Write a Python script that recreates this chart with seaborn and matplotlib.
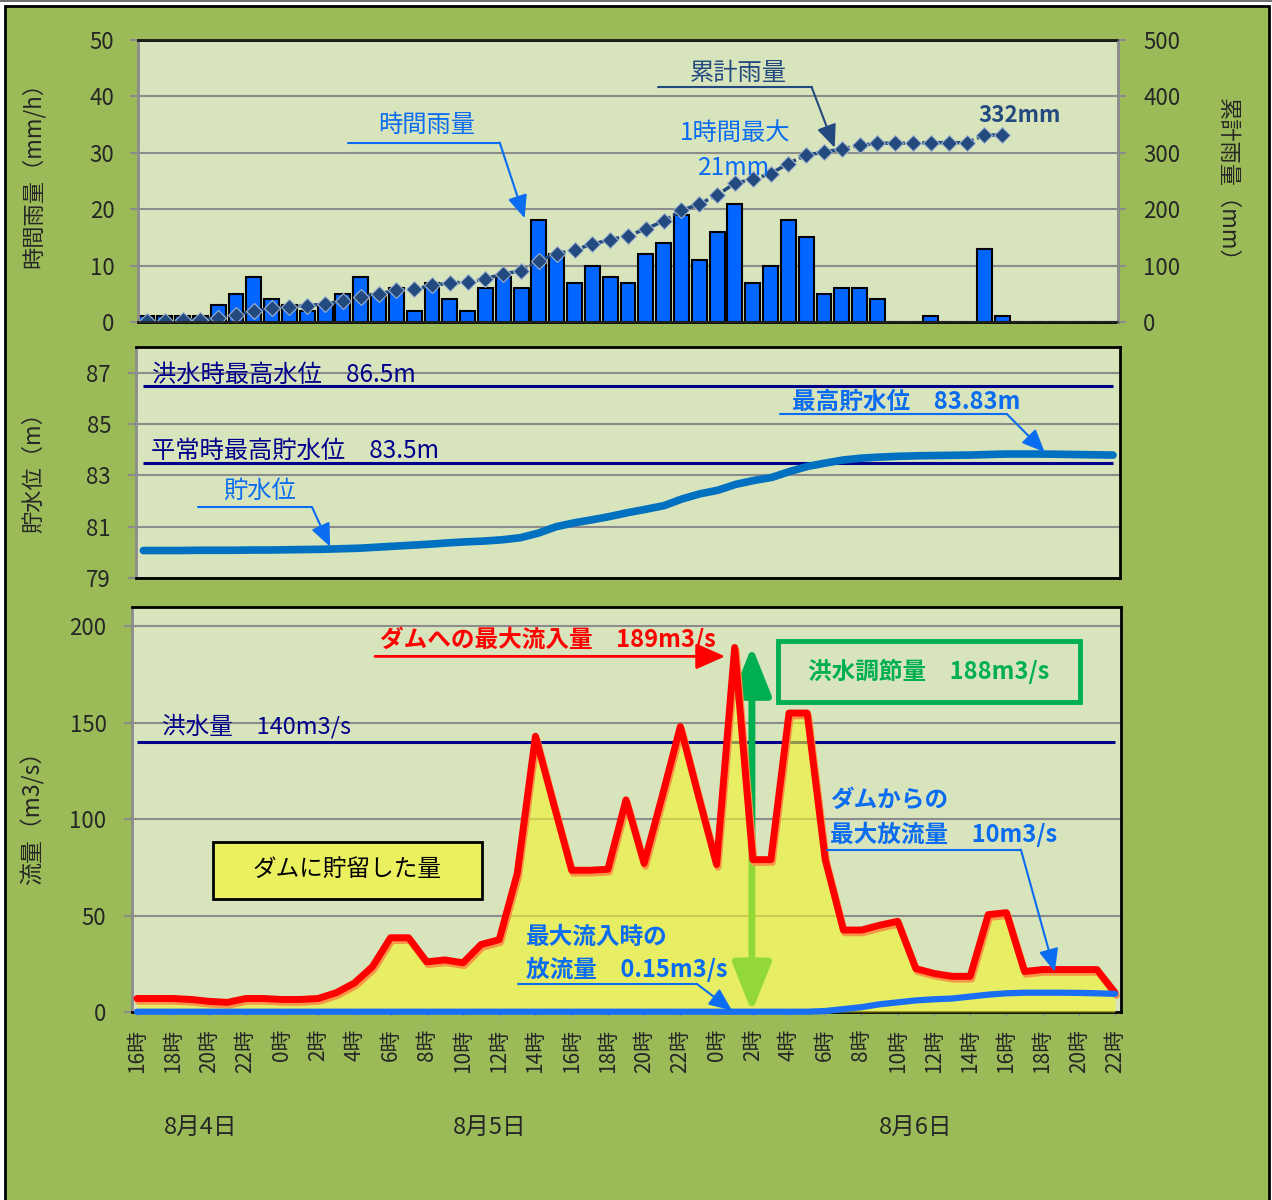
import numpy as np
import pandas as pd
import matplotlib
matplotlib.use("Agg")
import matplotlib.pyplot as plt
import matplotlib.patheffects as pe
from matplotlib.patches import Rectangle
from matplotlib.lines import Line2D
import seaborn as sns

sns.set_theme(style="white")
plt.rcParams['font.family'] = ['Noto Sans CJK JP', 'DejaVu Sans']

# hourly data, 8/4 16時 -> 8/6 22時
hour_idx = list(range(55))
rain = [1, 1, 1, 1, 3, 5, 8, 4, 3, 2, 3, 5, 8, 5, 6, 2, 7, 4, 2, 6,
        8, 6, 18, 12, 7, 10, 8, 7, 12, 14, 19, 11, 16, 21, 7, 10, 18, 15, 5, 6,
        6, 4, 0, 0, 1, 0, 0, 13, 1, 0, 0, 0, 0, 0, 0]
level = [80.07, 80.07, 80.07, 80.08, 80.08, 80.08, 80.09, 80.09, 80.10, 80.11,
         80.12, 80.14, 80.16, 80.20, 80.24, 80.28, 80.32, 80.37, 80.41, 80.44,
         80.49, 80.57, 80.75, 81.00, 81.15, 81.27, 81.40, 81.55, 81.68, 81.82,
         82.08, 82.28, 82.42, 82.65, 82.80, 82.92, 83.15, 83.35, 83.48, 83.60,
         83.67, 83.71, 83.74, 83.76, 83.77, 83.78, 83.79, 83.81, 83.83, 83.83,
         83.83, 83.82, 83.81, 83.80, 83.79]
inflow = [7, 7, 7, 6.5, 5.5, 5, 7, 7, 6.5, 6.5, 7, 10, 15, 23.5, 38.5, 38.5,
          26, 27, 25.5, 35, 37.5, 72, 143, 108, 73.5, 73.5, 74, 110, 77, 112,
          148, 112, 76.5, 189, 79, 79, 155, 155, 79, 42.5, 42.5, 45, 47, 22.5,
          20, 18.5, 18.5, 50.5, 51.5, 21, 22, 22, 22, 22, 10]
outflow = [0.15] * 38 + [0.5, 1.5, 2.5, 4, 5, 6, 6.6, 7, 8, 9, 9.7, 10, 10,
                         10, 9.9, 9.7, 9.4]
tick_labels = ['16時', '18時', '20時', '22時', '0時', '2時', '4時', '6時', '8時',
               '10時', '12時', '14時', '16時', '18時', '20時', '22時', '0時', '2時',
               '4時', '6時', '8時', '10時', '12時', '14時', '16時', '18時', '20時', '22時']
day_labels = ['8月4日', '8月5日', '8月6日']

flood_level = 86.5
normal_level = 83.5
flood_flow = 140

# colours
BG = '#9BBB59'
PANEL = '#D8E4BC'
GRID = '#8C8C8C'
BLUE = '#0066FF'
TXT_BLUE = '#0A6CF0'
CUM = '#234A7E'
NAVY = '#00008B'
GREEN = '#00B050'

W, H = 1272, 1200
fig = plt.figure(figsize=(W / 100, H / 100), dpi=100)
fig.patch.set_facecolor('white')
fig.add_artist(Rectangle((5 / W, -0.01), 1264 / W, 1.01 - 6 / H, transform=fig.transFigure,
                         facecolor=BG, edgecolor='black', lw=2, zorder=-10))
fig.add_artist(Line2D([0, 1], [1 - 1 / H] * 2, color='#555555', lw=1.2))


def px_axes(l, t, r, b):
    ax = fig.add_axes([l / W, 1 - b / H, (r - l) / W, (b - t) / H])
    ax.set_facecolor(PANEL)
    ax.set_axisbelow(True)
    ax.yaxis.grid(True, color=GRID, lw=1.5)
    for s in ax.spines.values():
        s.set_color('black')
        s.set_linewidth(2)
        s.set_visible(True)
    ax.spines['left'].set_color(GRID)
    ax.tick_params(axis='y', labelsize=16, length=6, width=1.5, color=GRID,
                   direction='out', pad=11, left=True)
    return ax


def leader(ax, x0, x1, y, tip, color, lw=1.5, head=0.7):
    ax.plot([x0, x1], [y, y], color=color, lw=lw, clip_on=False, zorder=6)
    ax.annotate('', xy=tip, xytext=(x1, y),
                arrowprops=dict(arrowstyle=f'-|>,head_length={head},head_width=0.3',
                                color=color, lw=lw, mutation_scale=20,
                                shrinkA=0, shrinkB=0), zorder=6)


# ---------------- rainfall ----------------
ax1 = px_axes(138, 40, 1118, 322)
sns.barplot(x=hour_idx, y=rain, color=BLUE, saturation=1, edgecolor='black',
            linewidth=1.5, width=0.84, ax=ax1, zorder=2)
ax1.set_xlim(-0.5, 54.5)
ax1.set_ylim(0, 50)
ax1.set_yticks([0, 10, 20, 30, 40, 50])
ax1.set_xticks([])
ax1.set_xlabel('')
ax1.spines['right'].set_color(GRID)
ax1.set_ylabel('時間雨量（mm/h）', fontsize=16)
ax1.yaxis.set_label_coords(-0.095, 0.54)

ax1r = ax1.twinx()
last = max(i for i, r in enumerate(rain) if r > 0)
cum = np.cumsum(rain)[:last + 1]
sns.lineplot(x=hour_idx[:last + 1], y=cum, ax=ax1r, color=CUM, lw=2.5,
             linestyle=(0, (3, 1)), marker='D', markersize=8,
             markeredgecolor='#9FB3CF', markeredgewidth=0.8)
ax1r.set_ylim(0, 500)
ax1r.set_yticks([0, 100, 200, 300, 400, 500])
ax1r.spines['right'].set_color(GRID)
ax1r.spines['right'].set_linewidth(2)
ax1r.spines['left'].set_visible(False)
ax1r.tick_params(axis='y', labelsize=16, length=6, width=1.5, color=GRID,
                 direction='out', pad=12, right=True)
ax1r.set_ylabel('累計雨量（mm）', fontsize=16, rotation=270, va='center')
ax1r.yaxis.set_label_coords(1.112, 0.486)

ax1r.text(33.2, 441, '累計雨量', color=CUM, fontsize=17.5, ha='center', va='center')
leader(ax1r, 28.7, 37.3, 417, (38.6, 309), CUM)
ax1r.text(15.7, 349, '時間雨量', color=TXT_BLUE, fontsize=17.5, ha='center', va='center')
leader(ax1r, 11.27, 19.8, 318, (21.2, 184), TXT_BLUE)
ax1r.text(33.0, 335, '1時間最大', color=TXT_BLUE, fontsize=17.5, ha='center', va='center')
ax1r.text(32.95, 273, '21mm', color=TXT_BLUE, fontsize=17.5, ha='center', va='center')
ax1r.text(49.0, 367, f'{cum[-1]}mm', color=CUM, fontsize=16, fontweight='bold',
          ha='center', va='center')

# ---------------- reservoir level ----------------
ax2 = px_axes(136, 347, 1120, 578)
ax2.hlines([flood_level, normal_level], hour_idx[0], hour_idx[-1], color=NAVY, lw=2.2, zorder=3)
sns.lineplot(x=hour_idx, y=level, ax=ax2, color='#0070C0', lw=5.5,
             solid_capstyle='round', zorder=4)
ax2.set_xlim(-0.41, 54.39)
ax2.set_ylim(79, 88)
ax2.set_yticks([79, 81, 83, 85, 87])
ax2.set_xticks([])
ax2.set_xlabel('')
ax2.tick_params(axis='y', pad=12)
ax2.set_ylabel('貯水位（m）', fontsize=16)
ax2.yaxis.set_label_coords(-0.0925, 0.48)

ax2.text(0.49, 86.9, f'洪水時最高水位　{flood_level}m', color=NAVY, fontsize=17.5, va='center')
ax2.text(0.43, 83.97, f'平常時最高貯水位　{normal_level}m', color=NAVY, fontsize=17.5, va='center')
ax2.text(6.5, 82.38, '貯水位', color=TXT_BLUE, fontsize=17.5, ha='center', va='center')
leader(ax2, 3.05, 9.4, 81.75, (10.4, 80.22), TXT_BLUE)
ax2.text(42.5, 85.85, f'最高貯水位　{max(level)}m', color=TXT_BLUE, fontsize=17,
         fontweight='bold', ha='center', va='center')
leader(ax2, 35.45, 48.1, 85.38, (50.2, 83.9), TXT_BLUE)

# ---------------- inflow / outflow ----------------
ax3 = px_axes(131.5, 607, 1120.5, 1012)
ax3.hlines(flood_flow, hour_idx[0], hour_idx[-1], color=NAVY, lw=2.2, zorder=2)
peak = int(np.argmax(inflow))
ax3.annotate('', xy=(peak + 0.95, max(inflow) + 0.6), xytext=(peak + 0.95, 0),
             arrowprops=dict(arrowstyle='<|-|>,head_length=1.5,head_width=0.6',
                             color=GREEN, lw=5, mutation_scale=20,
                             shrinkA=0, shrinkB=0), zorder=2.5)
ax3.fill_between(hour_idx, 0, inflow, color='#F4F628', alpha=0.6, lw=0, zorder=3)
sns.lineplot(x=hour_idx, y=inflow, ax=ax3, color='#FF0000', lw=5, zorder=4,
             path_effects=[pe.SimpleLineShadow(offset=(1, -2), shadow_color='#F79646', alpha=1),
                           pe.Normal()])
sns.lineplot(x=hour_idx, y=outflow, ax=ax3, color='#1A6EF2', lw=4.5, zorder=5, clip_on=False)
ax3.set_xlim(-0.30, 54.30)
ax3.set_ylim(0, 210)
ax3.set_yticks([0, 50, 100, 150, 200])
ax3.tick_params(axis='y', pad=12)
ax3.set_xticks(hour_idx[::2])
ax3.set_xticklabels(tick_labels, rotation=90, fontsize=15)
ax3.tick_params(axis='x', length=3, width=1, color=GRID, pad=9, bottom=True)
ax3.set_xlabel('')
ax3.set_ylabel('流量（m3/s）', fontsize=16.5)
ax3.yaxis.set_label_coords(-0.0875, 0.494)

# day labels centred under each day's hours
hour_of_day = [(16 + i) % 24 for i in hour_idx]
day_of = np.cumsum([1 if (h == 0 and i > 0) else 0 for i, h in enumerate(hour_of_day)])
for d, lab in enumerate(day_labels):
    members = [i for i in hour_idx if day_of[i] == d]
    ax3.text(np.mean(members), -59.7, lab, fontsize=17, ha='center', va='center', clip_on=False)

ax3.text(13.4, 193.2, f'ダムへの最大流入量　{max(inflow)}m3/s', color='#FF0000', fontsize=17,
         fontweight='bold', va='center', zorder=7)
ax3.annotate('', xy=(peak - 0.53, 184.4), xytext=(13.14, 184.4),
             arrowprops=dict(arrowstyle='-|>,head_length=0.9,head_width=0.4', color='#FF0000',
                             lw=2, mutation_scale=20, shrinkA=0, shrinkB=0), zorder=7)
ax3.text(1.38, 148, f'洪水量　{flood_flow}m3/s', color=NAVY, fontsize=17, va='center')

ax3.add_patch(Rectangle((35.37, 160.5), 16.7, 31.7, facecolor='none', edgecolor=GREEN, lw=3.5, zorder=6))
ax3.text(43.7, 176.6, f'洪水調節量　{max(inflow) - 1}m3/s', color=GREEN, fontsize=17,
         fontweight='bold', ha='center', va='center', zorder=7)

ax3.add_patch(Rectangle((4.2, 58.7), 14.85, 29.6, facecolor='#EBF05F', edgecolor='black', lw=2, zorder=6))
ax3.text(11.6, 73.8, 'ダムに貯留した量', color='black', fontsize=17, ha='center', va='center', zorder=7)

ax3.text(21.5, 39, '最大流入時の', color=TXT_BLUE, fontsize=17, fontweight='bold', va='center', zorder=7)
ax3.text(21.5, 21.8, f'放流量　{outflow[peak]}m3/s', color=TXT_BLUE, fontsize=17,
         fontweight='bold', va='center', zorder=7)
leader(ax3, 21.04, 30.92, 14.5, (32.85, 0.8), TXT_BLUE)
ax3.text(38.27, 110, 'ダムからの', color=TXT_BLUE, fontsize=17, fontweight='bold', va='center', zorder=7)
ax3.text(38.27, 92, f'最大放流量　{max(outflow):g}m3/s', color=TXT_BLUE, fontsize=17,
         fontweight='bold', va='center', zorder=7)
leader(ax3, 38.07, 48.8, 84.2, (50.67, 20.8), TXT_BLUE)

fig.savefig('out.png', dpi=100, facecolor=fig.get_facecolor())
